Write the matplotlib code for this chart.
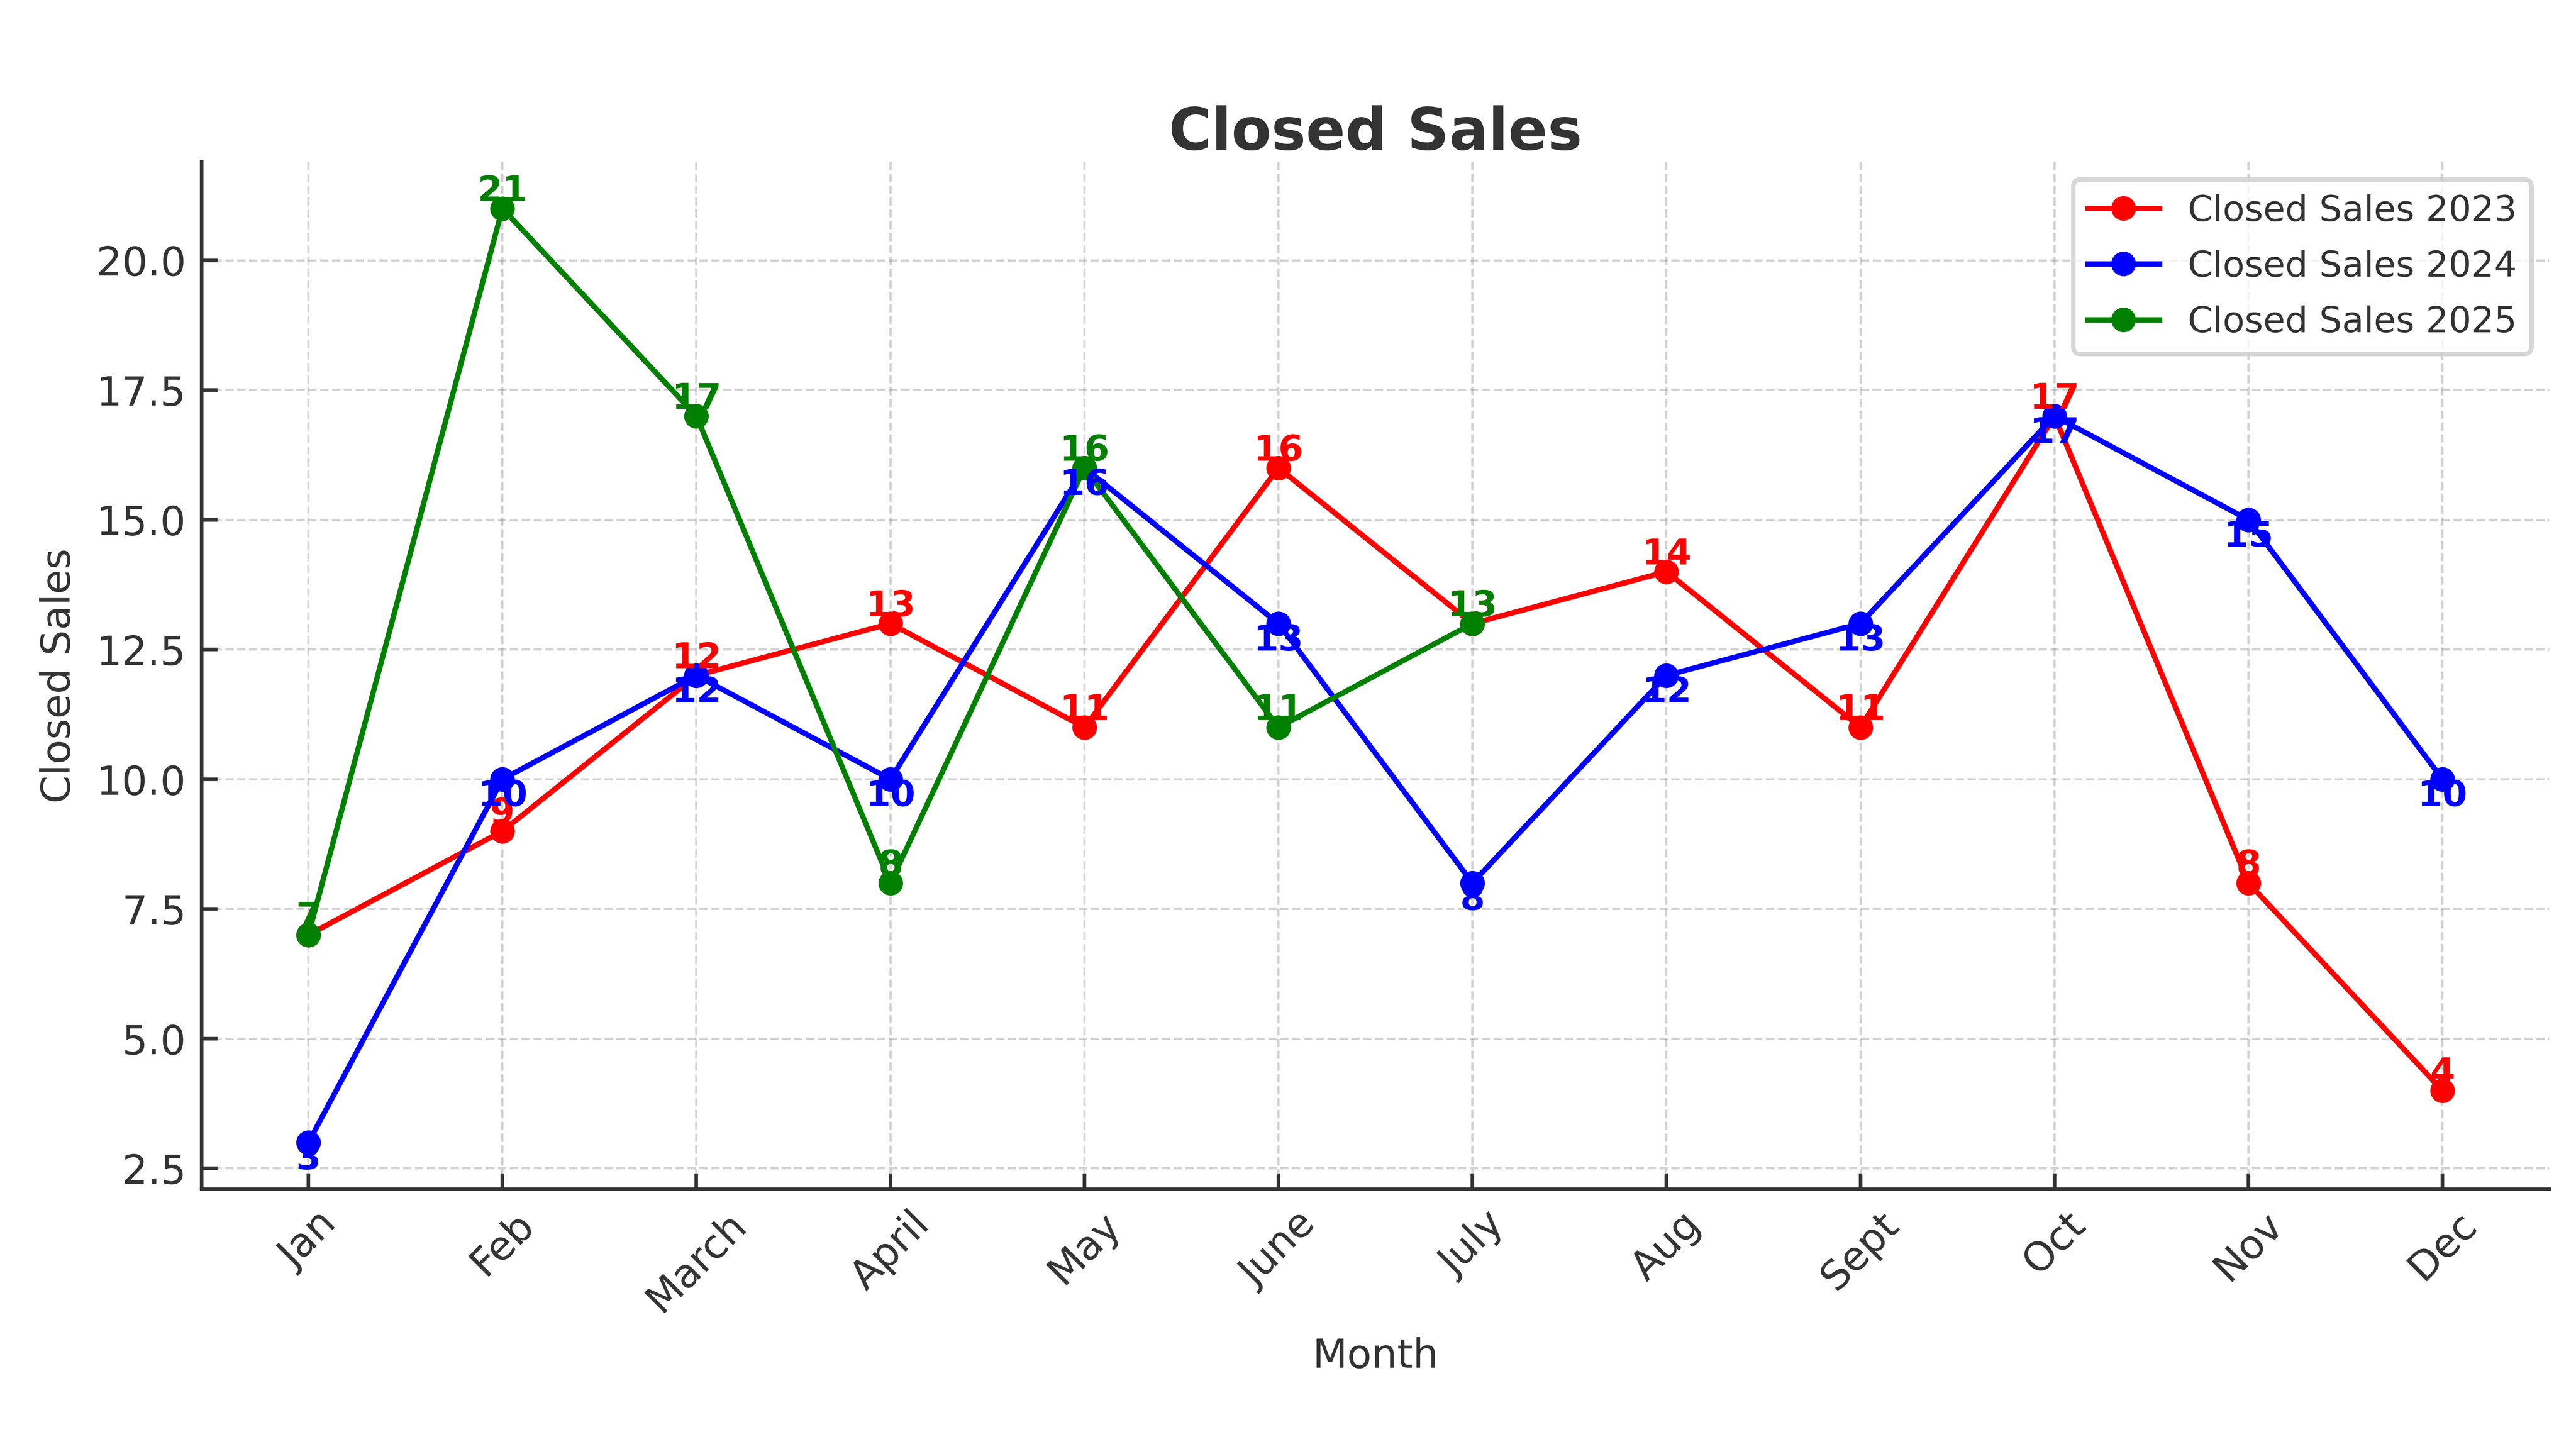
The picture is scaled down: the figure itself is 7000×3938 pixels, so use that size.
import matplotlib
matplotlib.use('Agg')
import matplotlib.pyplot as plt
import numpy as np

months = ['Jan', 'Feb', 'March', 'April', 'May', 'June', 'July', 'Aug', 'Sept', 'Oct', 'Nov', 'Dec']
sales_2023 = [7, 9, 12, 13, 11, 16, 13, 14, 11, 17, 8, 4]
sales_2024 = [3, 10, 12, 10, 16, 13, 8, 12, 13, 17, 15, 10]
sales_2025 = [7, 21, 17, 8, 16, 11, 13]
series_labels = ['Closed Sales 2023', 'Closed Sales 2024', 'Closed Sales 2025']
series_colors = ['red', 'blue', 'green']
label_valign = ['bottom', 'top', 'bottom']

plt.rcParams.update({
    'font.family': ['DejaVu Sans'],
    'text.color': '#333333',
    'axes.labelcolor': '#333333',
    'xtick.color': '#333333',
    'ytick.color': '#333333',
    'axes.edgecolor': '#333333',
    'xtick.direction': 'in',
    'ytick.direction': 'in',
    'xtick.labelsize': 9,
    'ytick.labelsize': 9,
})

DPI = 875
fig = plt.figure(figsize=(7000 / DPI, 3938.3 / DPI), dpi=DPI)
ax = fig.add_axes([0.0783, 0.1793, 0.9113, 0.709])

x = np.arange(len(months))
for label, vals, color, va in zip(series_labels, [sales_2023, sales_2024, sales_2025],
                                  series_colors, label_valign):
    xs = x[:len(vals)]
    ax.plot(xs, vals, marker='o', color=color, label=label, linewidth=1.2, markersize=4.5)
    for xi, v in zip(xs, vals):
        ax.text(xi, v, str(v), ha='center', va=va, color=color,
                fontweight='bold', fontsize=8)

ax.set_xticks(x)
ax.set_xticklabels(months, rotation=45)
ax.set_title('Closed Sales', fontsize=13, fontweight='bold', pad=1)
ax.set_xlabel('Month', fontsize=9)
ax.set_ylabel('Closed Sales', fontsize=9)
ax.grid(True, linestyle='--', linewidth=0.5, color='gray', alpha=0.35)
ax.spines['top'].set_visible(False)
ax.spines['right'].set_visible(False)
leg = ax.legend(loc='upper right', fontsize=8, labelspacing=0.6)
leg.get_frame().set_edgecolor('#cccccc')

fig.savefig('out.png', dpi=DPI)
